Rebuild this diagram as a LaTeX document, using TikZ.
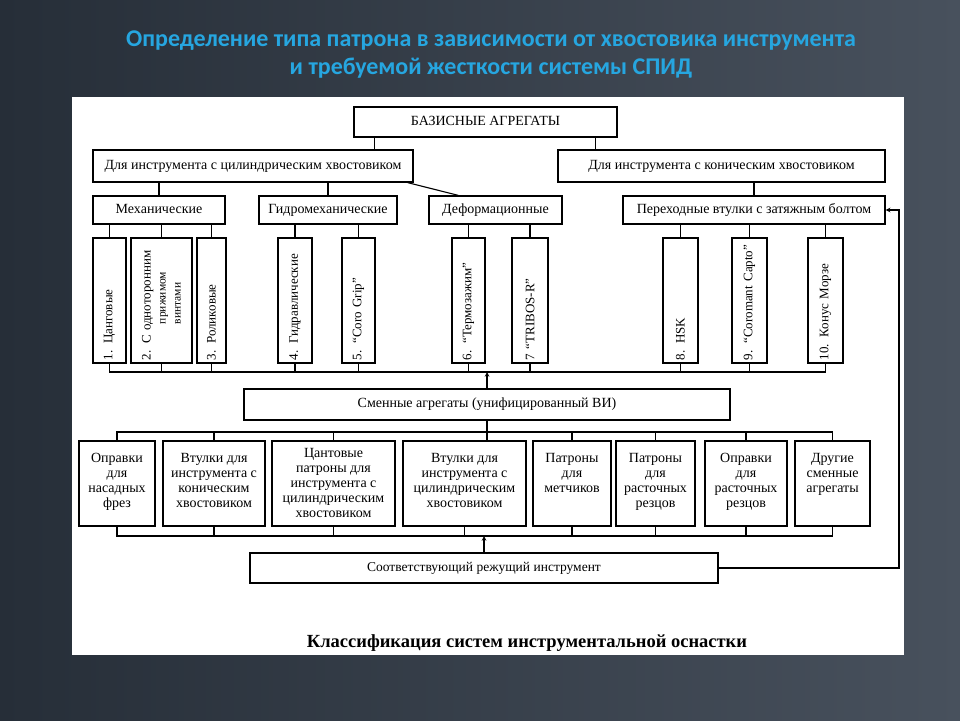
\documentclass[tikz,border=0pt]{standalone}
\usepackage{fontspec}
\setmainfont{Liberation Serif}
\newfontfamily\titlefont{Carlito}
\usetikzlibrary{calc}

\definecolor{slidedark}{HTML}{262E38}
\definecolor{slidemid}{HTML}{636C78}
\definecolor{slideright}{HTML}{48515D}
\definecolor{titleblue}{HTML}{26A6E0}

\newcommand{\celltext}[3][9pt]{\parbox[c][78pt][t]{#2}{\centering\vspace*{#1}#3}}

\tikzset{
  box/.style={draw, line width=1.3pt, fill=white, inner sep=2pt,
    font=\fontsize{14}{15}\selectfont},
  onerow/.style={text height=9.5pt, text depth=3pt},
  tallbox/.style={box, rotate=90, minimum width=125pt, minimum height=#1,
    text width=119pt, inner xsep=3pt, align=left, font=\fontsize{13}{15}\selectfont},
  lowbox/.style={box, minimum width=#1, minimum height=85pt},
  title/.style={font=\titlefont\bfseries\fontsize{24}{28}\selectfont,
    text=titleblue, align=center},
}

\begin{document}
\begin{tikzpicture}[x=1pt, y=-1pt, >=stealth, line width=1.1pt]
  \def\yBusA{372}
  \def\yBusB{432}
  \def\yBusC{536}
  \def\xBack{899}
  \useasboundingbox (0,0) rectangle (960,720);

  % Фон слайда
  \shade[left color=slidedark, middle color=slidemid, right color=slideright]
    (0,0) rectangle (960,720);
  \fill[white] (72,97) rectangle (904,655);

  % Заголовок
  \node[title] (title) at (491,55)
    {Определение типа патрона в зависимости от хвостовика инструмента\\
     и требуемой жесткости системы СПИД};

  % Базисные агрегаты и хвостовики
  \node[box, onerow, minimum width=263pt, minimum height=30pt] (base) at (485.5,122)
    {БАЗИСНЫЕ АГРЕГАТЫ};
  \node[box, onerow, minimum width=320pt, minimum height=32pt] (cyl) at (253,166)
    {Для инструмента с цилиндрическим хвостовиком};
  \node[box, onerow, minimum width=327pt, minimum height=32pt] (con) at (721.5,166)
    {Для инструмента с коническим хвостовиком};

  % Группы патронов
  \node[box, onerow, minimum width=132pt, minimum height=28pt] (mech) at (159,210) {Механические};
  \node[box, onerow, minimum width=138pt, minimum height=28pt] (hydro) at (328,210) {Гидромеханические};
  \node[box, onerow, minimum width=133pt, minimum height=28pt] (deform) at (495.5,210) {Деформационные};
  \node[box, onerow, minimum width=262pt, minimum height=28pt] (trans) at (754,210)
    {Переходные втулки с затяжным болтом};

  % Типы патронов (вертикальные)
  \node[tallbox=33pt] (t1) at (109.5,300.5) {1. Цанговые};
  \node[tallbox=61pt] (t2) at (161.5,300.5)
    {2. С одноторонним\\
     \hspace*{36pt}{\fontsize{11.5}{15}\selectfont прижимом}\\
     \hspace*{36pt}{\fontsize{11.5}{15}\selectfont винтами}};
  \node[tallbox=29pt] (t3) at (211.5,300.5) {3. Роликовые};
  \node[tallbox=34pt] (t4) at (295,300.5) {4. Гидравлические};
  \node[tallbox=33pt] (t5) at (358.5,300.5) {5. “Coro Grip”};
  \node[tallbox=33pt] (t6) at (468.5,300.5) {6. “Термозажим”};
  \node[tallbox=36pt] (t7) at (530,300.5) {7 “TRIBOS-R”};
  \node[tallbox=35pt] (t8) at (680.5,300.5) {8. HSK};
  \node[tallbox=35pt] (t9) at (749.5,300.5) {9. “Coromant Capto”};
  \node[tallbox=35pt] (t10) at (825.5,300.5) {10. Конус Морзе};

  % Сменные агрегаты
  \node[box, onerow, minimum width=486pt, minimum height=31pt] (swap) at (487,404.5)
    {Сменные агрегаты (унифицированный ВИ)};

  \node[lowbox=76pt] (b1) at (117,483.5) {\celltext{72pt}{Оправки\\для\\насадных\\фрез}};
  \node[lowbox=102pt] (b2) at (214,483.5)
    {\celltext{98pt}{Втулки для\\инструмента с\\коническим\\хвостовиком}};
  \node[lowbox=123pt] (b3) at (333.5,483.5)
    {\celltext[4pt]{119pt}{Цантовые\\патроны для\\инструмента с\\цилиндрическим\\хвостовиком}};
  \node[lowbox=123pt] (b4) at (464.5,483.5)
    {\celltext{119pt}{Втулки для\\инструмента с\\цилиндрическим\\хвостовиком}};
  \node[lowbox=78pt] (b5) at (572,483.5) {\celltext{74pt}{Патроны\\для\\метчиков}};
  \node[lowbox=79pt] (b6) at (655.5,483.5) {\celltext{75pt}{Патроны\\для\\расточных\\резцов}};
  \node[lowbox=82pt] (b7) at (746,483.5) {\celltext{78pt}{Оправки\\для\\расточных\\резцов}};
  \node[lowbox=75pt] (b8) at (832.5,483.5) {\celltext{71pt}{Другие\\сменные\\агрегаты}};

  % Режущий инструмент
  \node[box, onerow, minimum width=468pt, minimum height=30pt, font=\fontsize{13.5}{15}\selectfont]
    (tool) at (484,568) {Соответствующий режущий инструмент};

  % Подпись
  \node[font=\bfseries\fontsize{18.5}{22}\selectfont] (caption) at (527,643)
    {Классификация систем инструментальной оснастки};

  % Связи сверху
  \coordinate (baseL) at ($(base.south west)+(21,0)$);
  \coordinate (baseR) at ($(base.south east)+(-22,0)$);
  \draw (baseL) -- (baseL |- cyl.north);
  \draw (baseR) -- (baseR |- con.north);
  \draw (mech.north) -- (mech.north |- cyl.south);
  \draw (hydro.north) -- (hydro.north |- cyl.south);
  \draw ($(cyl.south east)+(-6,0)$) -- ($(deform.north west)+(30,0)$);
  \draw (trans.north) -- (trans.north |- con.south);
  \foreach \t/\p in {t1/mech, t2/mech, t3/mech, t4/hydro, t5/hydro,
                     t6/deform, t7/deform, t8/trans, t9/trans, t10/trans}
    \draw (\t.east) -- (\t.east |- \p.south);

  % Шина под патронами
  \coordinate (busA) at (0,\yBusA);
  \draw (t1.west) |- (t10.west |- busA) -- (t10.west);
  \foreach \t in {t2,t3,t4,t5,t6,t7,t8,t9}
    \draw (\t.west) -- (\t.west |- busA);
  \draw[->] (swap.north) -- (swap.north |- busA);

  % Шина над сменными агрегатами
  \coordinate (busB) at (0,\yBusB);
  \draw (b1.north) |- (b8.north |- busB) -- (b8.north);
  \foreach \b in {b2,b3,b5,b6,b7}
    \draw (\b.north) -- (\b.north |- busB);
  \draw (swap.south) -- (swap.south |- b4.north);

  % Шина под сменными агрегатами
  \coordinate (busC) at (0,\yBusC);
  \draw (b1.south) |- (b8.south |- busC) -- (b8.south);
  \foreach \b in {b2,b3,b4,b5,b6,b7}
    \draw (\b.south) -- (\b.south |- busC);
  \draw[->] (tool.north) -- (tool.north |- busC);

  % Обратная связь
  \coordinate (back) at (\xBack,0);
  \draw[->] (tool.east) -| (back |- trans.east) -- (trans.east);
\end{tikzpicture}
\end{document}
